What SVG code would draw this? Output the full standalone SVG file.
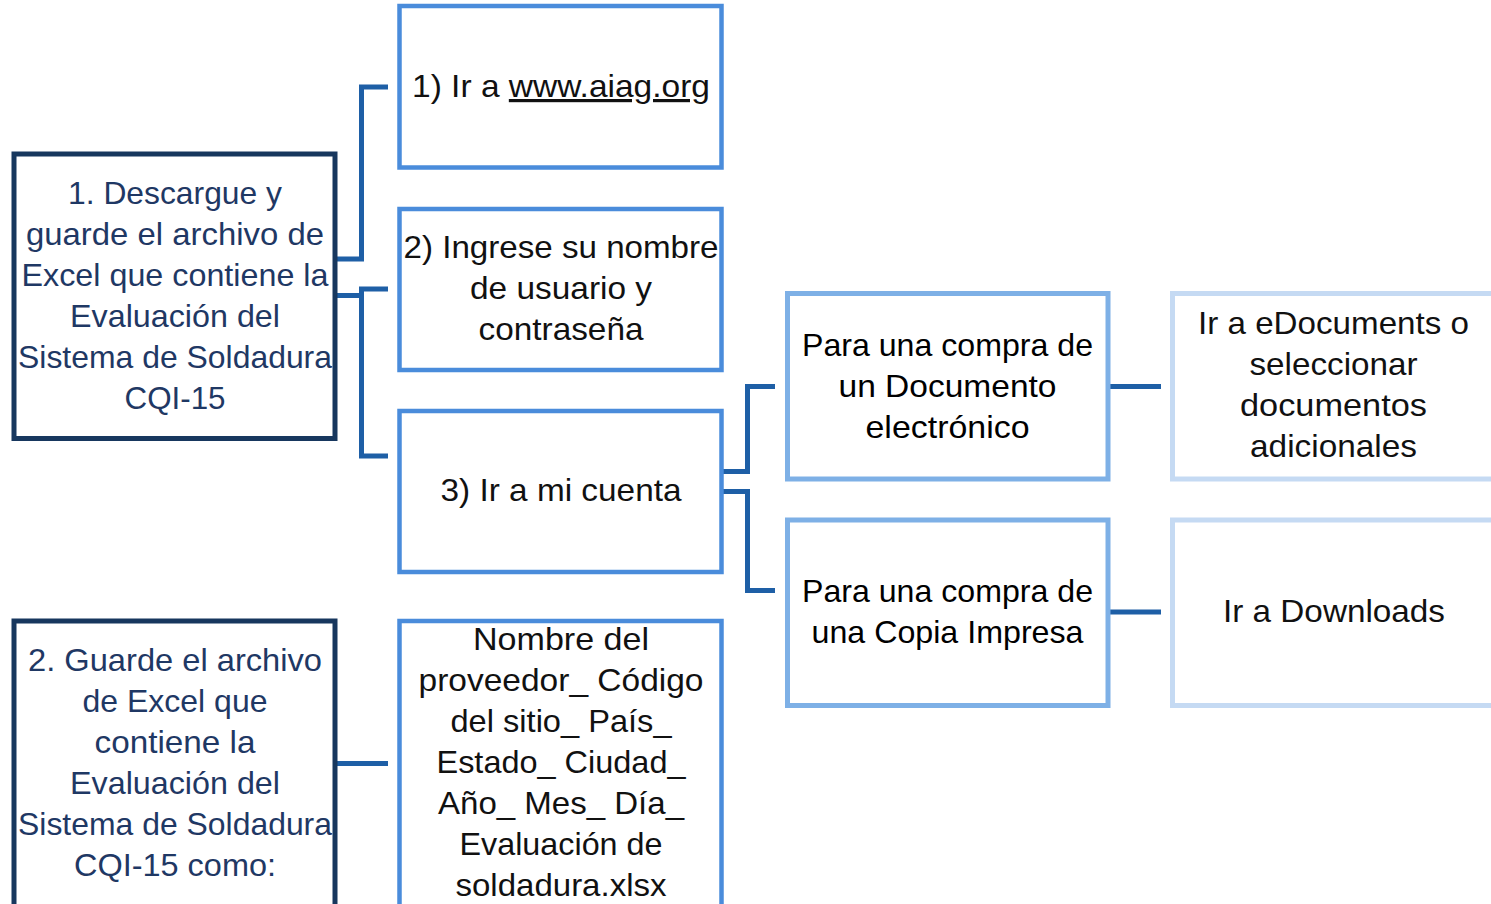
<svg xmlns="http://www.w3.org/2000/svg" width="1491" height="904" viewBox="0 0 1491 904">
<style>
.bg{fill:#ffffff}
.lvl0{fill:#ffffff;stroke:#17375E;stroke-width:5}
.lvl1{fill:#ffffff;stroke:#4A8CDB;stroke-width:4.5}
.lvl2{fill:#ffffff;stroke:#7EB0E6;stroke-width:5}
.lvl3{fill:#ffffff;stroke:#C5DAF3;stroke-width:5}
.conn{fill:none;stroke:#1E5FA6;stroke-width:5}
text{font-family:"Liberation Sans",Arial,sans-serif;font-size:32px;text-anchor:middle}
.t0{fill:#1F3864}
.t1{fill:#111111}
.t2{fill:#000000}
</style>
<rect class="bg" x="0" y="0" width="1491" height="904"/>
<g id="connectors">
<path class="conn" d="M335,259 H361.5 V87 H388"/>
<path class="conn" d="M335,295.5 H361.5 V289 H388 M361.5,295.5 V456 H388"/>
<path class="conn" d="M721,471.5 H747.5 V386.5 H775"/>
<path class="conn" d="M721,491.5 H747.5 V590.5 H775"/>
<path class="conn" d="M1110,386.5 H1161"/>
<path class="conn" d="M1110,612 H1161"/>
<path class="conn" d="M337,763.5 H388"/>
</g>
<g id="node-descargue">
<rect class="lvl0" x="14" y="154" width="321" height="284.5"/>
<text class="t0" x="175" y="204" textLength="214" lengthAdjust="spacingAndGlyphs">1. Descargue y</text>
<text class="t0" x="175" y="245" textLength="298" lengthAdjust="spacingAndGlyphs">guarde el archivo de</text>
<text class="t0" x="175" y="286" textLength="307" lengthAdjust="spacingAndGlyphs">Excel que contiene la</text>
<text class="t0" x="175" y="327" textLength="210" lengthAdjust="spacingAndGlyphs">Evaluación del</text>
<text class="t0" x="175" y="368" textLength="314" lengthAdjust="spacingAndGlyphs">Sistema de Soldadura</text>
<text class="t0" x="175" y="409" textLength="101" lengthAdjust="spacingAndGlyphs">CQI-15</text>
</g>
<g id="node-guarde">
<rect class="lvl0" x="14" y="621" width="321" height="300"/>
<text class="t0" x="175" y="671" textLength="294" lengthAdjust="spacingAndGlyphs">2. Guarde el archivo</text>
<text class="t0" x="175" y="712" textLength="185" lengthAdjust="spacingAndGlyphs">de Excel que</text>
<text class="t0" x="175" y="753" textLength="161" lengthAdjust="spacingAndGlyphs">contiene la</text>
<text class="t0" x="175" y="794" textLength="210" lengthAdjust="spacingAndGlyphs">Evaluación del</text>
<text class="t0" x="175" y="835" textLength="314" lengthAdjust="spacingAndGlyphs">Sistema de Soldadura</text>
<text class="t0" x="175" y="876" textLength="202" lengthAdjust="spacingAndGlyphs">CQI-15 como:</text>
</g>
<g id="node-step1">
<rect class="lvl1" x="399.5" y="6" width="322" height="161.5"/>
<text class="t1" x="561" y="97" textLength="298" lengthAdjust="spacingAndGlyphs">1) Ir a <tspan text-decoration="underline">www.aiag.org</tspan></text>
</g>
<g id="node-step2">
<rect class="lvl1" x="399.5" y="209" width="322" height="161"/>
<text class="t1" x="561" y="258" textLength="315" lengthAdjust="spacingAndGlyphs">2) Ingrese su nombre</text>
<text class="t1" x="561" y="299" textLength="182" lengthAdjust="spacingAndGlyphs">de usuario y</text>
<text class="t1" x="561" y="340" textLength="165" lengthAdjust="spacingAndGlyphs">contraseña</text>
</g>
<g id="node-step3">
<rect class="lvl1" x="399.5" y="411" width="322" height="161"/>
<text class="t1" x="561" y="501" textLength="241" lengthAdjust="spacingAndGlyphs">3) Ir a mi cuenta</text>
</g>
<g id="node-nombre">
<rect class="lvl1" x="399.5" y="621" width="322" height="300"/>
<text class="t1" x="561" y="650" textLength="176" lengthAdjust="spacingAndGlyphs">Nombre del</text>
<text class="t1" x="561" y="691" textLength="285" lengthAdjust="spacingAndGlyphs">proveedor_ Código</text>
<text class="t1" x="561" y="732" textLength="221" lengthAdjust="spacingAndGlyphs">del sitio_ País_</text>
<text class="t1" x="561" y="773" textLength="249" lengthAdjust="spacingAndGlyphs">Estado_ Ciudad_</text>
<text class="t1" x="561" y="814" textLength="246" lengthAdjust="spacingAndGlyphs">Año_ Mes_ Día_</text>
<text class="t1" x="561" y="855" textLength="203" lengthAdjust="spacingAndGlyphs">Evaluación de</text>
<text class="t1" x="561" y="896" textLength="211" lengthAdjust="spacingAndGlyphs">soldadura.xlsx</text>
</g>
<g id="node-electronico">
<rect class="lvl2" x="787.5" y="293.5" width="320.5" height="185.5"/>
<text class="t2" x="947.5" y="356" textLength="291" lengthAdjust="spacingAndGlyphs">Para una compra de</text>
<text class="t2" x="947.5" y="397" textLength="218" lengthAdjust="spacingAndGlyphs">un Documento</text>
<text class="t2" x="947.5" y="438" textLength="164" lengthAdjust="spacingAndGlyphs">electrónico</text>
</g>
<g id="node-impresa">
<rect class="lvl2" x="787.5" y="520" width="320.5" height="185.5"/>
<text class="t2" x="947.5" y="602" textLength="291" lengthAdjust="spacingAndGlyphs">Para una compra de</text>
<text class="t2" x="947.5" y="643" textLength="272" lengthAdjust="spacingAndGlyphs">una Copia Impresa</text>
</g>
<g id="node-edocuments">
<rect class="lvl3" x="1172.5" y="293.5" width="340" height="185.5"/>
<text class="t1" x="1333.5" y="334" textLength="271" lengthAdjust="spacingAndGlyphs">Ir a eDocuments o</text>
<text class="t1" x="1333.5" y="375" textLength="168" lengthAdjust="spacingAndGlyphs">seleccionar</text>
<text class="t1" x="1333.5" y="416" textLength="187" lengthAdjust="spacingAndGlyphs">documentos</text>
<text class="t1" x="1333.5" y="457" textLength="167" lengthAdjust="spacingAndGlyphs">adicionales</text>
</g>
<g id="node-downloads">
<rect class="lvl3" x="1172.5" y="520" width="340" height="185.5"/>
<text class="t1" x="1334" y="622" textLength="222" lengthAdjust="spacingAndGlyphs">Ir a Downloads</text>
</g>
</svg>
